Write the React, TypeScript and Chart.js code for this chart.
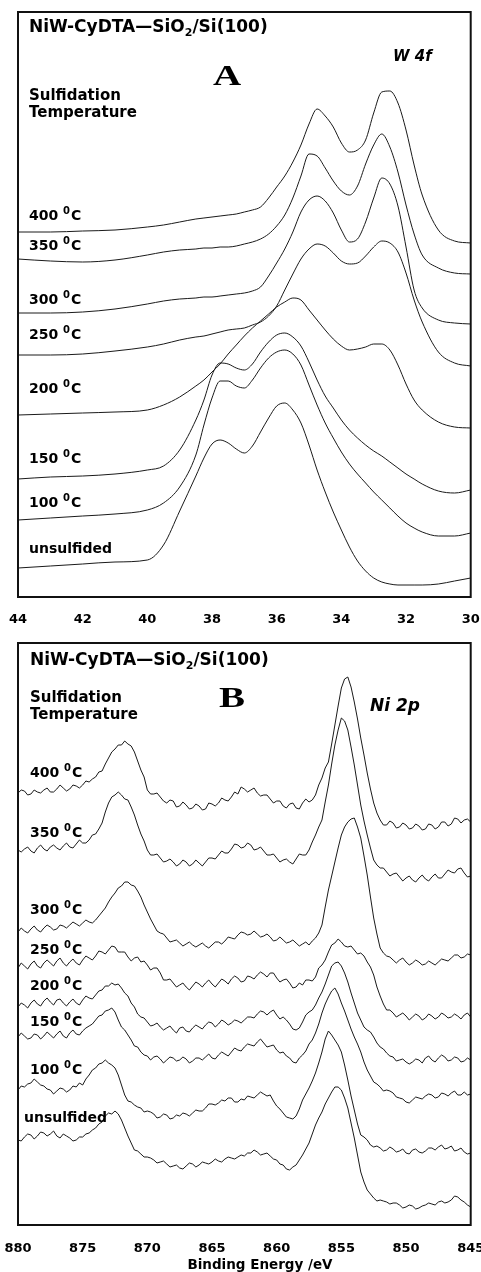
import React, { useEffect, useRef } from 'react';
import { Chart, registerables } from 'chart.js';

Chart.register(...registerables);

// ---------- Panel A : W 4f (binding energy, eV) ----------
const W_BE = [44, 43, 42, 41, 40, 39.5, 39, 38.5, 38.25, 38, 37.75, 37.5, 37.25, 37, 36.75, 36.5, 36.25, 36, 35.75, 35.5, 35.25, 35, 34.75, 34.5, 34.25, 34, 33.75, 33.5, 33.25, 33, 32.75, 32.5, 32.25, 32, 31.75, 31.5, 31, 30.5, 30];

const W_400 = [365, 365, 366, 367, 370, 372, 375, 378, 379, 380, 381, 382, 383, 385, 387, 390, 399, 410, 421, 435, 452, 473, 488, 481, 470, 454, 445, 447, 457, 484, 505, 506, 494, 467, 432, 402, 367, 356, 354];
const W_350 = [338, 336, 335, 337, 342, 345, 347, 348, 349, 349, 350, 350, 351, 353, 355, 358, 363, 371, 382, 399, 421, 443, 441, 429, 416, 406, 402, 411, 433, 452, 463, 450, 425, 392, 363, 342, 329, 324, 323];
const W_300 = [284, 284, 285, 288, 293, 296, 298, 299, 300, 300, 301, 302, 303, 304, 306, 310, 321, 334, 348, 365, 385, 397, 401, 396, 384, 367, 355, 358, 375, 399, 419, 413, 391, 350, 307, 289, 277, 274, 273];
const W_250 = [242, 242, 243, 246, 250, 253, 257, 260, 261, 263, 265, 267, 268, 269, 272, 275, 281, 291, 307, 323, 338, 348, 353, 351, 344, 336, 333, 334, 341, 350, 356, 354, 345, 324, 297, 275, 245, 234, 231];
const W_200 = [182, 183, 184, 185, 187, 192, 200, 211, 217, 225, 233, 243, 252, 261, 269, 276, 283, 290, 295, 299, 297, 287, 277, 267, 258, 251, 247, 248, 250, 253, 253, 247, 232, 213, 197, 187, 175, 170, 169];
const W_150 = [118, 120, 121, 123, 127, 131, 147, 177, 197, 222, 234, 233, 229, 227, 233, 245, 255, 262, 264, 260, 251, 235, 217, 201, 189, 177, 167, 159, 152, 146, 141, 135, 129, 123, 118, 113, 106, 104, 107];
const W_100 = [77, 79, 81, 83, 87, 94, 110, 142, 172, 199, 216, 216, 211, 209, 217, 229, 239, 245, 247, 243, 232, 212, 192, 174, 159, 145, 133, 123, 114, 105, 97, 89, 81, 74, 69, 65, 61, 61, 64];
const W_UNS = [29, 31, 33, 35, 37, 52, 86, 121, 139, 153, 157, 154, 148, 144, 151, 165, 179, 191, 194, 187, 174, 152, 127, 105, 85, 67, 50, 36, 26, 19, 15, 13, 12, 12, 12, 12, 13, 16, 19];

// ---------- Panel B : Ni 2p (binding energy, eV) ----------
const NI_BE = [880, 879.75, 879.5, 879.25, 879, 878.75, 878.5, 878.25, 878, 877.75, 877.5, 877.25, 877, 876.75, 876.5, 876.25, 876, 875.75, 875.5, 875.25, 875, 874.75, 874.5, 874.25, 874, 873.75, 873.5, 873.25, 873, 872.75, 872.5, 872.25, 872, 871.75, 871.5, 871.25, 871, 870.75, 870.5, 870.25, 870, 869.75, 869.5, 869.25, 869, 868.75, 868.5, 868.25, 868, 867.75, 867.5, 867.25, 867, 866.75, 866.5, 866.25, 866, 865.75, 865.5, 865.25, 865, 864.75, 864.5, 864.25, 864, 863.75, 863.5, 863.25, 863, 862.75, 862.5, 862.25, 862, 861.75, 861.5, 861.25, 861, 860.75, 860.5, 860.25, 860, 859.75, 859.5, 859.25, 859, 858.75, 858.5, 858.25, 858, 857.75, 857.5, 857.25, 857, 856.75, 856.5, 856.25, 856, 855.75, 855.5, 855.25, 855, 854.75, 854.5, 854.25, 854, 853.75, 853.5, 853.25, 853, 852.75, 852.5, 852.25, 852, 851.75, 851.5, 851.25, 851, 850.75, 850.5, 850.25, 850, 849.75, 849.5, 849.25, 849, 848.75, 848.5, 848.25, 848, 847.75, 847.5, 847.25, 847, 846.75, 846.5, 846.25, 846, 845.75, 845.5, 845.25, 845];

const NI_400 = [432, 435, 434, 430, 431, 435, 433, 432, 435, 437, 433, 433, 436, 440, 437, 434, 436, 440, 439, 437, 440, 444, 443, 446, 448, 453, 454, 461, 467, 473, 476, 480, 480, 484, 481, 479, 473, 464, 455, 448, 435, 431, 431, 432, 428, 424, 422, 425, 424, 418, 419, 423, 420, 416, 417, 421, 419, 415, 416, 422, 421, 419, 422, 427, 425, 424, 428, 433, 431, 438, 436, 433, 435, 437, 432, 429, 430, 430, 426, 422, 424, 424, 419, 417, 421, 422, 417, 416, 422, 426, 423, 425, 430, 440, 447, 457, 463, 481, 500, 519, 537, 546, 548, 538, 523, 506, 487, 470, 452, 436, 422, 412, 405, 400, 400, 404, 402, 397, 398, 402, 400, 396, 397, 401, 399, 395, 396, 401, 400, 396, 398, 403, 403, 399, 401, 407, 406, 402, 405, 406, 403];
const NI_350 = [375, 373, 376, 378, 374, 372, 377, 380, 376, 374, 378, 380, 377, 375, 379, 382, 378, 377, 381, 385, 382, 382, 385, 390, 391, 396, 402, 413, 422, 428, 430, 433, 430, 426, 425, 418, 410, 400, 391, 384, 375, 370, 370, 371, 367, 363, 364, 366, 363, 359, 361, 365, 363, 359, 361, 365, 362, 359, 363, 367, 367, 366, 370, 374, 372, 372, 376, 381, 380, 377, 378, 382, 380, 375, 376, 378, 374, 370, 370, 371, 367, 363, 365, 366, 363, 361, 366, 371, 370, 370, 375, 383, 390, 398, 405, 423, 440, 461, 480, 495, 507, 504, 495, 478, 460, 440, 420, 404, 390, 377, 365, 360, 357, 357, 353, 349, 351, 352, 348, 344, 347, 349, 345, 343, 347, 350, 346, 344, 348, 351, 347, 347, 351, 355, 353, 352, 356, 357, 352, 348, 349];
const NI_300 = [293, 297, 294, 292, 296, 299, 295, 293, 297, 300, 298, 295, 296, 300, 299, 297, 300, 303, 301, 299, 302, 305, 303, 302, 305, 309, 313, 317, 323, 328, 332, 337, 339, 343, 343, 340, 339, 334, 328, 320, 313, 306, 300, 294, 292, 291, 287, 283, 284, 285, 282, 279, 281, 283, 280, 278, 280, 282, 279, 277, 280, 283, 283, 281, 284, 288, 287, 286, 290, 293, 292, 290, 291, 294, 291, 288, 289, 291, 288, 284, 285, 288, 285, 282, 283, 285, 282, 279, 281, 283, 280, 284, 287, 292, 300, 318, 335, 349, 363, 377, 390, 398, 403, 406, 407, 398, 387, 369, 350, 328, 307, 291, 277, 272, 269, 268, 265, 262, 265, 267, 263, 260, 262, 265, 263, 260, 261, 264, 262, 260, 263, 266, 265, 264, 267, 270, 270, 267, 268, 271, 270];
const NI_250 = [257, 262, 259, 256, 261, 264, 259, 257, 262, 265, 262, 259, 264, 267, 262, 259, 263, 266, 262, 260, 265, 269, 267, 265, 269, 274, 273, 271, 275, 279, 278, 273, 273, 273, 268, 264, 267, 268, 263, 264, 260, 255, 257, 257, 252, 245, 245, 246, 242, 238, 240, 242, 238, 235, 239, 243, 241, 238, 242, 245, 241, 238, 242, 246, 244, 241, 246, 249, 247, 243, 244, 249, 248, 246, 250, 253, 251, 248, 252, 252, 247, 243, 245, 246, 242, 237, 238, 242, 240, 245, 245, 244, 248, 257, 260, 265, 273, 280, 282, 286, 283, 279, 278, 279, 275, 271, 272, 269, 263, 258, 250, 238, 229, 221, 215, 215, 212, 208, 210, 212, 209, 205, 208, 211, 209, 205, 207, 211, 209, 206, 208, 212, 210, 207, 208, 211, 209, 206, 210, 212, 208];
const NI_200 = [218, 222, 220, 217, 222, 225, 221, 219, 224, 227, 223, 220, 225, 226, 222, 219, 223, 226, 222, 220, 225, 229, 227, 226, 230, 234, 235, 239, 239, 242, 240, 241, 237, 232, 229, 222, 218, 211, 208, 207, 203, 199, 200, 202, 198, 195, 197, 199, 195, 192, 197, 198, 194, 193, 197, 200, 198, 196, 200, 203, 202, 198, 201, 205, 203, 200, 202, 205, 204, 202, 205, 208, 208, 207, 211, 214, 213, 210, 213, 215, 210, 206, 208, 205, 201, 196, 195, 197, 203, 210, 213, 215, 220, 227, 233, 241, 250, 259, 262, 263, 259, 252, 243, 232, 222, 212, 205, 198, 195, 193, 188, 182, 178, 176, 172, 169, 168, 164, 165, 166, 163, 161, 163, 166, 165, 162, 167, 169, 165, 163, 167, 170, 168, 164, 165, 168, 167, 163, 164, 167, 165];
const NI_150 = [188, 192, 189, 186, 187, 191, 190, 186, 189, 193, 190, 187, 191, 194, 189, 187, 192, 195, 191, 190, 194, 197, 199, 201, 205, 209, 210, 214, 215, 217, 213, 205, 198, 195, 190, 185, 179, 178, 173, 170, 169, 165, 168, 169, 166, 162, 165, 168, 167, 164, 165, 168, 166, 162, 164, 167, 167, 165, 168, 171, 167, 166, 170, 173, 171, 169, 173, 177, 175, 174, 178, 181, 180, 179, 183, 186, 182, 178, 179, 180, 175, 172, 173, 169, 167, 163, 162, 167, 170, 174, 181, 185, 192, 201, 212, 221, 228, 234, 237, 231, 222, 214, 205, 196, 188, 181, 173, 163, 155, 149, 143, 141, 138, 134, 135, 134, 132, 128, 127, 126, 123, 122, 125, 128, 127, 126, 129, 131, 130, 127, 128, 132, 131, 129, 132, 134, 130, 130, 133, 130, 131];
const NI_100 = [135, 139, 138, 141, 142, 146, 143, 140, 139, 136, 135, 131, 134, 137, 136, 133, 135, 139, 138, 142, 140, 146, 150, 155, 157, 161, 162, 165, 162, 160, 157, 150, 140, 130, 124, 123, 120, 118, 117, 113, 114, 113, 111, 107, 108, 111, 110, 106, 107, 110, 109, 112, 111, 109, 112, 115, 114, 114, 117, 121, 121, 120, 122, 125, 124, 127, 127, 123, 123, 126, 125, 129, 128, 127, 130, 133, 131, 129, 130, 124, 119, 116, 112, 108, 107, 106, 109, 116, 125, 131, 137, 144, 152, 162, 173, 186, 194, 190, 185, 180, 173, 160, 145, 129, 115, 101, 90, 88, 85, 80, 78, 79, 77, 74, 75, 78, 76, 73, 74, 76, 72, 71, 75, 76, 73, 72, 74, 77, 77, 75, 78, 80, 76, 77, 79, 74, 75, 77, 73, 71, 72];
const NI_UNS = [85, 84, 88, 91, 90, 86, 89, 93, 92, 89, 91, 94, 89, 87, 91, 89, 87, 84, 85, 88, 88, 91, 92, 95, 97, 101, 103, 109, 112, 111, 114, 111, 105, 97, 89, 82, 75, 74, 71, 68, 68, 67, 65, 62, 63, 64, 61, 58, 59, 60, 57, 56, 59, 62, 61, 58, 60, 63, 62, 61, 63, 66, 64, 63, 66, 68, 67, 66, 68, 70, 69, 72, 72, 75, 73, 70, 71, 72, 69, 66, 65, 61, 60, 56, 55, 58, 60, 65, 70, 76, 82, 91, 100, 107, 113, 121, 127, 133, 138, 138, 135, 127, 117, 102, 87, 70, 53, 43, 35, 31, 27, 24, 25, 24, 23, 21, 22, 22, 20, 17, 18, 20, 19, 16, 17, 19, 20, 22, 21, 20, 23, 24, 22, 23, 25, 29, 28, 25, 23, 20, 18];

const TEMPS = ['400', '350', '300', '250', '200', '150', '100', 'unsulfided'];
const W_SERIES = [W_400, W_350, W_300, W_250, W_200, W_150, W_100, W_UNS];
const NI_SERIES = [NI_400, NI_350, NI_300, NI_250, NI_200, NI_150, NI_100, NI_UNS];

const W_RANGE = [30, 44];
const NI_RANGE = [845, 880];
const W_STEP = 2;
const NI_STEP = 5;
const W_YMAX = 585;
const NI_YMAX = 582;

// ---------- layout ----------
const W = 481;
const PANEL_H = 636;
const SANS = '"DejaVu Sans", "Liberation Sans", Arial, sans-serif';
const SERIF = '"Liberation Serif", "Times New Roman", serif';

type Decor = {
  titleBase: number;
  titleX: number;
  letter: string;
  letterX: number;
  letterBase: number;
  sulfBase: number;
  tempBase: number;
  core: string;
  coreX: number;
  coreBase: number;
  coreSize: number;
  labelBases: number[];
  labelX: number[];
  axisTitle?: { text: string; x: number; y: number };
};

function drawTitle(ctx: CanvasRenderingContext2D, x: number, y: number) {
  ctx.textAlign = 'left';
  ctx.textBaseline = 'alphabetic';
  ctx.font = `bold 17px ${SANS}`;
  const a = 'NiW-CyDTA\u2014SiO';
  ctx.fillText(a, x, y);
  let w = ctx.measureText(a).width;
  ctx.font = `bold 11px ${SANS}`;
  ctx.fillText('2', x + w, y + 4);
  w += ctx.measureText('2').width;
  ctx.font = `bold 17px ${SANS}`;
  ctx.fillText('/Si(100)', x + w, y);
}

function drawTemp(ctx: CanvasRenderingContext2D, text: string, x: number, y: number) {
  ctx.textAlign = 'left';
  ctx.textBaseline = 'alphabetic';
  ctx.font = `bold 14px ${SANS}`;
  if (text === 'unsulfided') {
    ctx.fillText(text, x, y);
    return;
  }
  const main = text + ' ';
  ctx.fillText(main, x, y);
  let w = ctx.measureText(main).width;
  ctx.font = `bold 10px ${SANS}`;
  ctx.fillText('0', x + w, y - 6);
  w += ctx.measureText('0').width + 1;
  ctx.font = `bold 14px ${SANS}`;
  ctx.fillText('C', x + w, y);
}

function makeDecor(d: Decor) {
  return {
    id: 'decor',
    afterDraw(chart: any) {
      const { ctx, chartArea: ca } = chart;
      ctx.save();
      ctx.strokeStyle = '#111';
      ctx.lineWidth = 2;
      ctx.strokeRect(ca.left, ca.top, ca.right - ca.left, ca.bottom - ca.top);
      ctx.fillStyle = '#000';
      drawTitle(ctx, d.titleX, d.titleBase);
      ctx.save();
      ctx.font = `bold 30px ${SERIF}`;
      ctx.textAlign = 'center';
      ctx.textBaseline = 'alphabetic';
      ctx.translate(d.letterX, d.letterBase);
      ctx.scale(1.3, 1);
      ctx.fillText(d.letter, 0, 0);
      ctx.restore();
      ctx.textAlign = 'left';
      ctx.textBaseline = 'alphabetic';
      ctx.font = `bold 15px ${SANS}`;
      ctx.fillText('Sulfidation', d.titleX, d.sulfBase);
      ctx.fillText('Temperature', d.titleX, d.tempBase);
      ctx.font = `italic bold ${d.coreSize}px ${SANS}`;
      ctx.fillText(d.core, d.coreX, d.coreBase);
      TEMPS.forEach((t, i) => drawTemp(ctx, t, d.labelX[i], d.labelBases[i]));
      if (d.axisTitle) {
        ctx.font = `bold 13.5px ${SANS}`;
        ctx.textAlign = 'center';
        ctx.fillText(d.axisTitle.text, d.axisTitle.x, d.axisTitle.y);
      }
      ctx.restore();
    },
  };
}

function makeChart(
  canvas: HTMLCanvasElement,
  xs: number[],
  series: number[][],
  range: number[],
  step: number,
  ymax: number,
  padTop: number,
  axisH: number,
  tickPad: number,
  smooth: boolean,
  decor: Decor
) {
  return new Chart(canvas, {
    type: 'line',
    data: {
      datasets: series.map((vals, i) => ({
        label: TEMPS[i],
        data: xs.map((x, j) => ({ x, y: vals[j] })),
        borderColor: '#1a1a1a',
        borderWidth: 1,
        pointRadius: 0,
        fill: false,
        tension: smooth ? 0.4 : 0,
        cubicInterpolationMode: smooth ? 'monotone' : 'default',
      })),
    },
    options: {
      animation: false,
      responsive: false,
      maintainAspectRatio: false,
      layout: { padding: { left: 18, right: 10.3, top: padTop, bottom: 0 } },
      plugins: { legend: { display: false }, tooltip: { enabled: false }, title: { display: false } },
      scales: {
        x: {
          type: 'linear',
          reverse: true,
          min: range[0],
          max: range[1],
          ticks: {
            stepSize: step,
            color: '#000',
            padding: tickPad,
            maxRotation: 0,
            autoSkip: false,
            font: { family: SANS, weight: 'bold', size: 13 },
          },
          grid: { display: false, drawTicks: false },
          border: { display: false },
          afterFit: (s: any) => {
            s.height = axisH;
            s.paddingLeft = 0;
            s.paddingRight = 0;
          },
        },
        y: { display: false, min: 0, max: ymax },
      },
    } as any,
    plugins: [makeDecor(decor)],
  });
}

export default function App() {
  const refA = useRef<HTMLCanvasElement | null>(null);
  const refB = useRef<HTMLCanvasElement | null>(null);

  useEffect(() => {
    if (!refA.current || !refB.current) return;
    const a = makeChart(refA.current, W_BE, W_SERIES, W_RANGE, W_STEP, W_YMAX, 12, 39, 15, true, {
      titleX: 29,
      titleBase: 32,
      letter: 'A',
      letterX: 227,
      letterBase: 85,
      sulfBase: 100,
      tempBase: 117,
      core: 'W 4f',
      coreX: 393,
      coreBase: 61,
      coreSize: 15,
      labelBases: [220, 250, 304, 339, 393, 463, 507, 553],
      labelX: [29, 29, 29, 29, 29, 29, 29, 29],
    });
    const b = makeChart(refB.current, NI_BE, NI_SERIES, NI_RANGE, NI_STEP, NI_YMAX, 7, 47, 16, false, {
      titleX: 30,
      titleBase: 29,
      letter: 'B',
      letterX: 232,
      letterBase: 71,
      sulfBase: 66,
      tempBase: 83,
      core: 'Ni 2p',
      coreX: 370,
      coreBase: 75,
      coreSize: 17,
      labelBases: [141, 201, 278, 318, 354, 390, 438, 486],
      labelX: [30, 30, 30, 30, 30, 30, 30, 24],
      axisTitle: { text: 'Binding Energy /eV', x: 260, y: 633 },
    });
    return () => {
      a.destroy();
      b.destroy();
    };
  }, []);

  return (
    <div style={{ position: 'absolute', left: 0, top: 0, width: W, height: PANEL_H * 2, background: '#fff' }}>
      <canvas
        ref={refA}
        width={W}
        height={PANEL_H}
        style={{ position: 'absolute', left: 0, top: 0, width: W, height: PANEL_H, display: 'block' }}
      />
      <canvas
        ref={refB}
        width={W}
        height={PANEL_H}
        style={{ position: 'absolute', left: 0, top: PANEL_H, width: W, height: PANEL_H, display: 'block' }}
      />
    </div>
  );
}
